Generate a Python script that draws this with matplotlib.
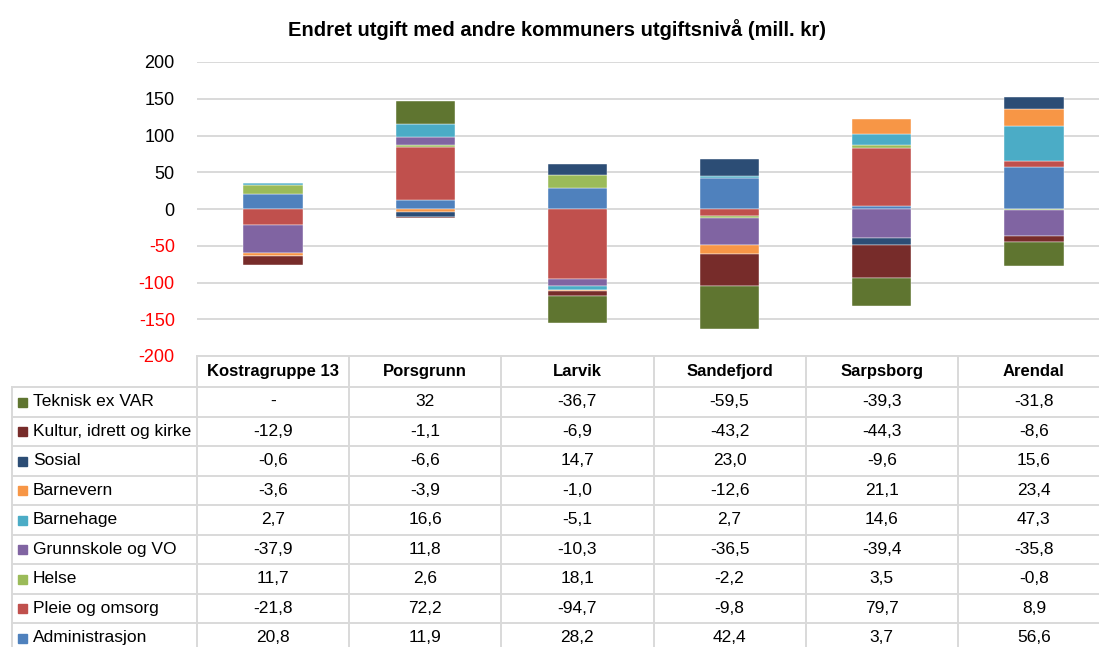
import matplotlib
matplotlib.use("Agg")
import matplotlib.pyplot as plt
from matplotlib import font_manager
from matplotlib.lines import Line2D
from matplotlib.patches import Rectangle
import numpy as np

# ---------------- data ----------------
title = "Endret utgift med andre kommuners utgiftsnivå (mill. kr)"
categories = ["Kostragruppe 13", "Porsgrunn", "Larvik", "Sandefjord", "Sarpsborg", "Arendal"]

# series in stacking order (nearest zero first)
series_names = ["Administrasjon", "Pleie og omsorg", "Helse", "Grunnskole og VO",
                "Barnehage", "Barnevern", "Sosial", "Kultur, idrett og kirke", "Teknisk ex VAR"]
administrasjon = [20.8, 11.9, 28.2, 42.4, 3.7, 56.6]
pleie = [-21.8, 72.2, -94.7, -9.8, 79.7, 8.9]
helse = [11.7, 2.6, 18.1, -2.2, 3.5, -0.8]
grunnskole = [-37.9, 11.8, -10.3, -36.5, -39.4, -35.8]
barnehage = [2.7, 16.6, -5.1, 2.7, 14.6, 47.3]
barnevern = [-3.6, -3.9, -1.0, -12.6, 21.1, 23.4]
sosial = [-0.6, -6.6, 14.7, 23.0, -9.6, 15.6]
kultur = [-12.9, -1.1, -6.9, -43.2, -44.3, -8.6]
teknisk = [None, 32, -36.7, -59.5, -39.3, -31.8]
series_values = [administrasjon, pleie, helse, grunnskole, barnehage,
                 barnevern, sosial, kultur, teknisk]
series_colors = ["#4F81BD", "#C0504D", "#9BBB59", "#8064A2", "#4BACC6",
                 "#F79646", "#2C4D75", "#772C2A", "#5F7530"]
yticks = [-200, -150, -100, -50, 0, 50, 100, 150, 200]

# ---------------- fonts ----------------
avail = {f.name for f in font_manager.fontManager.ttflist}
fam = "Liberation Sans Narrow" if "Liberation Sans Narrow" in avail else "Liberation Sans"
plt.rcParams["font.family"] = [fam, "DejaVu Sans"]

W, H = 1099, 647
fig = plt.figure(figsize=(W / 100, H / 100), dpi=100)
fig.patch.set_facecolor("white")

def fx(x):
    return x / W

def fy(y):
    return 1 - y / H

# plot area (extends past right edge like the reference crop)
L, R, T, B = 197, 1110, 62, 356
ax = fig.add_axes([fx(L), fy(B), fx(R) - fx(L), fy(T) - fy(B)])
ax.set_xlim(-0.5, len(categories) - 0.5)
ax.set_ylim(-200, 200)
ax.set_yticks(yticks)
ax.set_yticklabels([str(v) for v in yticks])
for lab, v in zip(ax.get_yticklabels(), yticks):
    lab.set_color("red" if v < 0 else "black")
    lab.set_fontsize(13)
ax.tick_params(axis="y", length=0, pad=16)
ax.set_xticks([])
for s in ax.spines.values():
    s.set_visible(False)
ax.grid(axis="y", color="#D9D9D9", linewidth=1.4)
ax.set_axisbelow(True)

x = np.arange(len(categories))
pos_bottom = np.zeros(len(categories))
neg_bottom = np.zeros(len(categories))
for name, vals, col in zip(series_names, series_values, series_colors):
    v = np.array([0.0 if a is None else float(a) for a in vals])
    bottoms = np.where(v >= 0, pos_bottom, neg_bottom)
    ax.bar(x, v, width=0.39, bottom=bottoms, color=col, edgecolor="white",
           linewidth=0.3, zorder=3)
    pos_bottom = pos_bottom + np.where(v >= 0, v, 0)
    neg_bottom = neg_bottom + np.where(v < 0, v, 0)

fig.text(0.507, fy(30), title, ha="center", va="center", fontsize=14.5,
         fontweight="bold")

# ---------------- data table ----------------
gcol = "#D9D9D9"
lw = 1.4
col_w = (R - L) / len(categories)
header_top, header_bot = 356, 387
row_h = 29.5
nrows = len(series_names)
table_bot = header_bot + nrows * row_h
legend_left = 12

def hline(y, x0, x1):
    fig.add_artist(Line2D([fx(x0), fx(x1)], [fy(y), fy(y)], color=gcol, lw=lw,
                          transform=fig.transFigure))

def vline(xp, y0, y1):
    fig.add_artist(Line2D([fx(xp), fx(xp)], [fy(y0), fy(y1)], color=gcol, lw=lw,
                          transform=fig.transFigure))

hline(header_top, L, R)
for i in range(nrows + 1):
    hline(header_bot + i * row_h, legend_left, R)
for j in range(len(categories) + 1):
    vline(L + j * col_w, header_top, table_bot)
vline(legend_left, header_bot, table_bot)

for j, c in enumerate(categories):
    fig.text(fx(L + (j + 0.5) * col_w), fy((header_top + header_bot) / 2), c,
             ha="center", va="center", fontsize=12, fontweight="bold")

def fmt(v):
    if v is None:
        return "-"
    if isinstance(v, int):
        return str(v)
    return f"{v:.1f}".replace(".", ",")

# table rows listed top-down in reverse stacking order
for r, idx in enumerate(range(nrows - 1, -1, -1)):
    cy = header_bot + (r + 0.5) * row_h
    name = series_names[idx]
    vals = series_values[idx]
    col = series_colors[idx]
    fig.add_artist(Rectangle((fx(18), fy(cy + 5)), fx(9), 9 / H, color=col,
                             transform=fig.transFigure))
    fig.text(fx(33), fy(cy), name, ha="left", va="center", fontsize=12.5)
    for j, v in enumerate(vals):
        fig.text(fx(L + (j + 0.5) * col_w), fy(cy), fmt(v), ha="center",
                 va="center", fontsize=12.5)

fig.savefig("out.png", dpi=100, facecolor="white")
